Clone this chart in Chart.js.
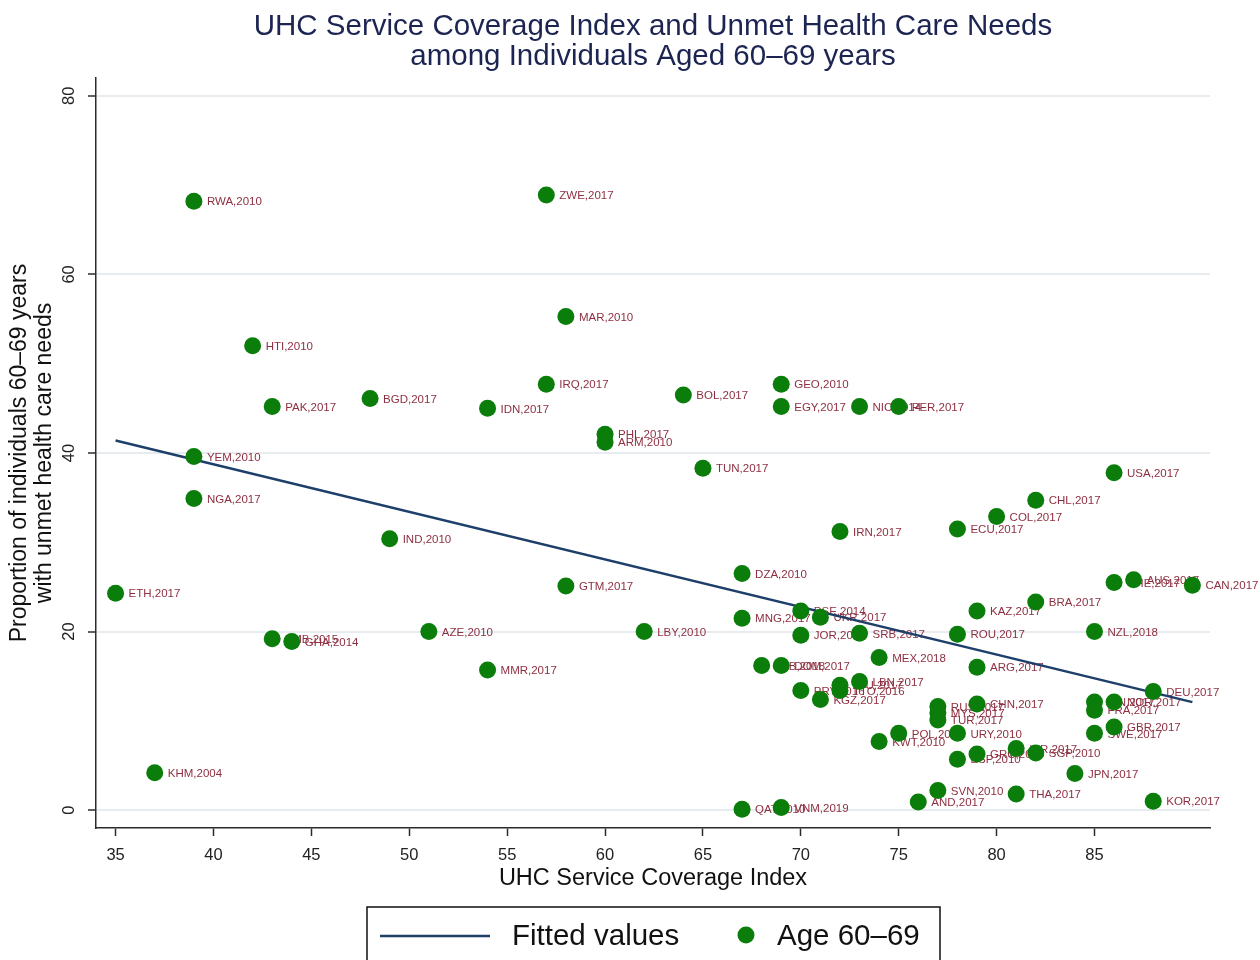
<!DOCTYPE html>
<html>
<head>
<meta charset="utf-8">
<script src="https://cdn.jsdelivr.net/npm/chart.js@4/dist/chart.umd.min.js"></script>
<style>
  html, body { margin: 0; padding: 0; background: #ffffff; }
  #wrap { width: 1260px; height: 960px; }
</style>
</head>
<body>
<div id="wrap"><canvas id="c" width="1260" height="960"></canvas></div>
<script>
// Country/year marker labels, UHC service coverage index, and % with unmet needs (age 60–69)
const countryLabels = [
  'RWA,2010','ZWE,2017','MAR,2010','HTI,2010','IRQ,2017','BGD,2017','PAK,2017','IDN,2017',
  'BOL,2017','GEO,2010','EGY,2017','NIC,2014','PER,2017','PHL,2017','ARM,2010','YEM,2010',
  'TUN,2017','USA,2017','NGA,2017','CHL,2017','COL,2017','IRN,2017','ECU,2017','IND,2010',
  'DZA,2010','GTM,2017','ETH,2017','AUS,2017','CHE,2017','CAN,2017','BRA,2017','KAZ,2017',
  'MNG,2017','PSE,2014','UKR,2017','NZL,2018','AZE,2010','LBY,2010','JOR,2017','SRB,2017',
  'ROU,2017','ZMB,2015','GHA,2014','MEX,2018','MMR,2017','ALB,2018','DOM,2017','ARG,2017',
  'PRY,2016','TTO,2016','LTU,2017','LBN,2017','KGZ,2017','DEU,2017','FIN,2017','NOR,2017',
  'FRA,2017','GBR,2017','SWE,2017','CHN,2017','RUS,2017','MYS,2017','TUR,2017','POL,2010',
  'KWT,2010','URY,2010','GRC,2010','ESP,2010','ISR,2017','SGP,2010','JPN,2017','SVN,2010',
  'AND,2017','THA,2017','KOR,2017','QAT,2010','VNM,2019','KHM,2004'
];
const coverageIndex = [
  39, 57, 58, 42, 57, 48, 43, 54,
  64, 69, 69, 73, 75, 60, 60, 39,
  65, 86, 39, 82, 80, 72, 78, 49,
  67, 58, 35, 87, 86, 90, 82, 79,
  67, 70, 71, 85, 51, 62, 70, 73,
  78, 43, 44, 74, 54, 68, 69, 79,
  70, 72, 72, 73, 71, 88, 85, 86,
  85, 86, 85, 79, 77, 77, 77, 75,
  74, 78, 79, 78, 81, 82, 84, 77,
  76, 81, 88, 67, 69, 37
];
const unmetNeeds = [
  68.2, 68.9, 55.3, 52.0, 47.7, 46.1, 45.2, 45.0,
  46.5, 47.7, 45.2, 45.2, 45.2, 42.1, 41.2, 39.6,
  38.3, 37.8, 34.9, 34.7, 32.9, 31.2, 31.5, 30.4,
  26.5, 25.1, 24.3, 25.8, 25.5, 25.2, 23.3, 22.3,
  21.5, 22.3, 21.6, 20.0, 20.0, 20.0, 19.6, 19.8,
  19.7, 19.2, 18.9, 17.1, 15.7, 16.2, 16.2, 16.0,
  13.4, 13.4, 14.0, 14.4, 12.4, 13.3, 12.1, 12.1,
  11.2, 9.3, 8.6, 11.9, 11.6, 10.9, 10.1, 8.6,
  7.7, 8.6, 6.3, 5.7, 6.9, 6.4, 4.1, 2.2,
  0.9, 1.8, 1.0, 0.1, 0.3, 4.2
];

// Linear fit endpoints
const fitX = [35, 90];
const fitY = [41.4, 12.1];

// Axis tick values
const xTicks = [35, 40, 45, 50, 55, 60, 65, 70, 75, 80, 85];
const yTicks = [0, 20, 40, 60, 80];

// Chart title lines
const titleLines = ['UHC Service Coverage Index and Unmet Health Care Needs',
                    'among Individuals Aged 60–69 years'];

const NAVY = '#1d3f6a';
const GREEN = '#0a7d0a';
const LABEL_RED = '#8e2f41';
const AXIS = '#2b2b2b';
const FONT = "'Liberation Sans', Arial, Helvetica, sans-serif";

const scatterPoints = coverageIndex.map((x, i) => ({ x: x, y: unmetNeeds[i] }));
const fitPoints = fitX.map((x, i) => ({ x: x, y: fitY[i] }));

// Title centred across the full graph width
const graphTitlePlugin = {
  id: 'graphTitle',
  afterDraw(chart) {
    const ctx = chart.ctx;
    ctx.save();
    ctx.font = '29.5px ' + FONT;
    ctx.fillStyle = '#1c2452';
    ctx.textAlign = 'center';
    ctx.textBaseline = 'middle';
    titleLines.forEach((line, i) => ctx.fillText(line, 653, 27 + i * 30));
    ctx.restore();
  }
};

// Marker labels, drawn beneath the markers and the fitted line
const pointLabelPlugin = {
  id: 'pointLabels',
  beforeDatasetsDraw(chart) {
    const meta = chart.getDatasetMeta(1);
    const ctx = chart.ctx;
    ctx.save();
    ctx.font = '11.5px ' + FONT;
    ctx.fillStyle = LABEL_RED;
    ctx.textAlign = 'left';
    ctx.textBaseline = 'middle';
    meta.data.forEach((el, i) => {
      ctx.fillText(countryLabels[i], el.x + 13, el.y + 1);
    });
    ctx.restore();
  }
};

// Rotated y tick labels
const yTickLabelPlugin = {
  id: 'yTickLabels',
  afterDraw(chart) {
    const ys = chart.scales.y;
    const ctx = chart.ctx;
    ctx.save();
    ctx.font = '16.5px ' + FONT;
    ctx.fillStyle = '#222';
    ctx.textAlign = 'center';
    ctx.textBaseline = 'middle';
    ys.ticks.forEach(t => {
      const py = ys.getPixelForValue(t.value);
      ctx.save();
      ctx.translate(ys.right - 27, py);
      ctx.rotate(-Math.PI / 2);
      ctx.fillText(String(t.value), 0, 0);
      ctx.restore();
    });
    ctx.restore();
  }
};

// Boxed legend below the axis title
const boxedLegendPlugin = {
  id: 'boxedLegend',
  afterDraw(chart) {
    const ctx = chart.ctx;
    const ds = chart.data.datasets;
    const top = 907, left = 367, right = 940, midY = 936;
    ctx.save();
    ctx.strokeStyle = '#111';
    ctx.lineWidth = 1.5;
    ctx.beginPath();
    ctx.moveTo(left, 965);
    ctx.lineTo(left, top);
    ctx.lineTo(right, top);
    ctx.lineTo(right, 965);
    ctx.stroke();

    ctx.strokeStyle = ds[0].borderColor;
    ctx.lineWidth = 2.5;
    ctx.beginPath();
    ctx.moveTo(380, midY);
    ctx.lineTo(490, midY);
    ctx.stroke();

    ctx.fillStyle = ds[1].backgroundColor;
    ctx.beginPath();
    ctx.arc(746, midY - 1, 8.5, 0, Math.PI * 2);
    ctx.fill();

    ctx.font = '29.5px ' + FONT;
    ctx.fillStyle = '#111';
    ctx.textAlign = 'left';
    ctx.textBaseline = 'middle';
    ctx.fillText(ds[0].label, 512, midY + 1);
    ctx.fillText(ds[1].label, 777, midY + 1);
    ctx.restore();
  }
};

new Chart(document.getElementById('c'), {
  data: {
    datasets: [
      {
        type: 'line',
        label: 'Fitted values',
        data: fitPoints,
        borderColor: NAVY,
        borderWidth: 2.5,
        pointRadius: 0,
        fill: false,
        order: 2
      },
      {
        type: 'scatter',
        label: 'Age 60–69',
        data: scatterPoints,
        backgroundColor: GREEN,
        borderColor: GREEN,
        borderWidth: 0,
        pointRadius: 8.5,
        pointHoverRadius: 8.5,
        order: 1
      }
    ]
  },
  options: {
    responsive: false,
    animation: false,
    devicePixelRatio: 1,
    layout: { padding: { top: 78, left: 0, right: 50, bottom: 69 } },
    plugins: {
      legend: { display: false },
      tooltip: { enabled: false },
      title: { display: false }
    },
    scales: {
      x: {
        type: 'linear',
        min: 34,
        max: 90.9,
        afterBuildTicks: s => { s.ticks = xTicks.map(v => ({ value: v })); },
        afterFit: s => { s.height = 63; },
        ticks: { color: '#222', font: { family: FONT, size: 16.5 }, padding: 10 },
        grid: { drawOnChartArea: false, drawTicks: true, tickLength: 8, tickColor: AXIS, tickWidth: 1.5 },
        border: { display: true, color: AXIS, width: 1.5 },
        title: {
          display: true,
          text: 'UHC Service Coverage Index',
          color: '#111',
          font: { family: FONT, size: 23.5, lineHeight: 1.1 },
          padding: { top: 0, bottom: 0 }
        }
      },
      y: {
        type: 'linear',
        min: -2,
        max: 82,
        afterBuildTicks: s => { s.ticks = yTicks.map(v => ({ value: v })); },
        afterFit: s => { s.width = 96; },
        ticks: { display: false },
        grid: { color: '#e6ecef', lineWidth: 2, drawTicks: true, tickLength: 8, tickColor: AXIS, tickWidth: 1.5 },
        border: { display: true, color: AXIS, width: 1.5 },
        title: {
          display: true,
          text: ['Proportion of individuals 60–69 years', 'with unmet health care needs'],
          color: '#111',
          font: { family: FONT, size: 23, lineHeight: 1.087 },
          padding: { top: 7.5, bottom: 0 }
        }
      }
    }
  },
  plugins: [pointLabelPlugin, yTickLabelPlugin, boxedLegendPlugin, graphTitlePlugin]
});
</script>
</body>
</html>
